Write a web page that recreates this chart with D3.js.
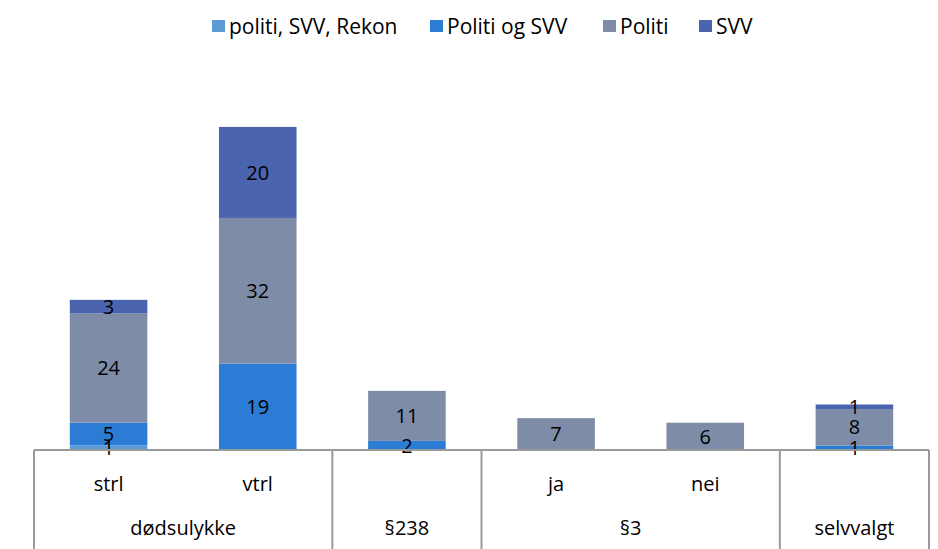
<!DOCTYPE html>
<html>
<head>
<meta charset="utf-8">
<script src="https://cdn.jsdelivr.net/npm/d3@7"></script>
<style>
  body { margin: 0; background: #fff; }
  text { font-family: "Open Sans", "Liberation Sans", sans-serif; fill: #000; }
</style>
</head>
<body>
<div id="viz"></div>
<script>
const categories = ['strl', 'vtrl', '', 'ja', 'nei', ''];
const groups = ['dødsulykke', '§238', '§3', 'selvvalgt'];
const groupSpans = [2, 1, 2, 1];
const seriesNames = ['politi, SVV, Rekon', 'Politi og SVV', 'Politi', 'SVV'];
const politiSvvRekon = [1, 0, 0, 0, 0, 0];
const politiOgSvv = [5, 19, 2, 0, 0, 1];
const politi = [24, 32, 11, 7, 6, 8];
const svv = [3, 20, 0, 0, 0, 1];
const colors = ['#5d9bd6', '#2b7cd4', '#7e8ca8', '#4a64ae'];

const width = 938, height = 549;
const left = 34, right = 929, axisY = 450;

const svg = d3.select('#viz').append('svg')
    .attr('width', width)
    .attr('height', height);

const rows = categories.map((c, i) => ({
    idx: i,
    s0: politiSvvRekon[i], s1: politiOgSvv[i], s2: politi[i], s3: svv[i]
}));
const stack = d3.stack().keys(['s0', 's1', 's2', 's3'])(rows);

const x = d3.scaleBand().domain(d3.range(categories.length))
    .range([left, right]).paddingInner(0.48).paddingOuter(0.24);
const y = d3.scaleLinear().domain([0, 80]).range([axisY, 86]);

// bars
const layer = svg.selectAll('g.layer')
    .data(stack)
    .enter()
    .append('g')
    .attr('class', 'layer')
    .attr('fill', (d, i) => colors[i]);

layer.selectAll('rect')
    .data(d => d)
    .enter()
    .append('rect')
    .attr('x', d => x(d.data.idx))
    .attr('width', x.bandwidth())
    .attr('y', d => y(d[1]))
    .attr('height', d => y(d[0]) - y(d[1]));

// value labels
stack.forEach(s => {
    svg.append('g').selectAll('text')
       .data(s.filter(d => d[1] - d[0] > 0))
       .enter()
       .append('text')
       .attr('x', d => x(d.data.idx) + x.bandwidth() / 2)
       .attr('y', d => (y(d[0]) + y(d[1])) / 2)
       .attr('dy', '0.36em')
       .attr('text-anchor', 'middle')
       .style('font-size', '20px')
       .text(d => d[1] - d[0]);
});

// category axis box
const axisColor = '#9a9a9a';
svg.append('line')
   .attr('x1', left).attr('x2', right)
   .attr('y1', axisY).attr('y2', axisY)
   .attr('stroke', axisColor).attr('stroke-width', 2);

const step = x.step();
let pos = 0;
const bounds = [0];
groupSpans.forEach(s => { pos += s; bounds.push(pos); });
bounds.forEach(b => {
    const bx = left + b * step;
    svg.append('line')
       .attr('x1', bx).attr('x2', bx)
       .attr('y1', axisY).attr('y2', height)
       .attr('stroke', axisColor).attr('stroke-width', 2);
});

svg.append('g').selectAll('text')
   .data(categories)
   .enter()
   .append('text')
   .attr('x', (d, i) => x(i) + x.bandwidth() / 2)
   .attr('y', 491)
   .attr('text-anchor', 'middle')
   .style('font-size', '20px')
   .text(d => d);

svg.append('g').selectAll('text')
   .data(groups)
   .enter()
   .append('text')
   .attr('x', (d, i) => left + (bounds[i] + bounds[i + 1]) / 2 * step)
   .attr('y', 535)
   .attr('text-anchor', 'middle')
   .style('font-size', '20px')
   .text(d => d);

// legend
const legendX = [212, 430, 603, 699];
const legend = svg.append('g').selectAll('g')
    .data(seriesNames)
    .enter()
    .append('g')
    .attr('transform', (d, i) => 'translate(' + legendX[i] + ', 26)');
legend.append('rect')
    .attr('x', 0).attr('y', -6)
    .attr('width', 13).attr('height', 12)
    .attr('fill', (d, i) => colors[i]);
legend.append('text')
    .attr('x', 17)
    .attr('dy', '0.36em')
    .style('font-size', '21px')
    .text(d => d);
</script>
</body>
</html>
